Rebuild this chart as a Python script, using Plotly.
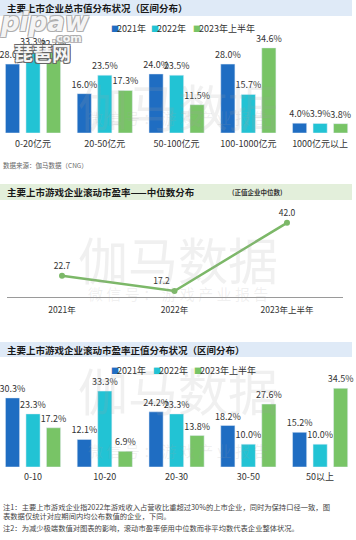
import plotly.graph_objects as go

W, H = 356, 540

# ---------- data ----------
cat1 = ["0-20亿元", "20-50亿元", "50-100亿元", "100-1000亿元", "1000亿元以上"]
mv_2021 = [28.0, 16.0, 24.0, 28.0, 4.0]
mv_2022 = [33.3, 23.5, 23.5, 15.7, 3.9]
mv_2023h1 = [32.7, 17.3, 11.5, 34.6, 3.8]

years = ["2021年", "2022年", "2023年上半年"]
pe_median = [22.7, 17.2, 42.0]

cat3 = ["0-10", "10-20", "20-30", "30-50", "50以上"]
pe_2021 = [30.3, 12.1, 24.2, 18.2, 15.2]
pe_2022 = [23.3, 33.3, 23.3, 10.0, 10.0]
pe_2023h1 = [17.2, 6.9, 13.8, 27.6, 34.5]

series_names = ["2021年", "2022年", "2023年上半年"]
colors = ["#1f6dc2", "#22c3d4", "#78c466"]
line_color = "#7cb868"

FONT = "Noto Sans CJK SC, Noto Sans, sans-serif"


def py(p):
    return 1 - p / H


def px(p):
    return p / W


fig = go.Figure()

# chart 1 bars
for name, vals, col in zip(series_names, [mv_2021, mv_2022, mv_2023h1], colors):
    fig.add_trace(go.Bar(
        x=cat1, y=vals, name=name, marker_color=col, xaxis="x", yaxis="y",
        text=[f"{v:.1f}%" for v in vals], textposition="outside",
        textfont=dict(size=9, color="#333333", family=FONT),
        constraintext="none", cliponaxis=False, showlegend=False))

# chart 2 line
fig.add_trace(go.Scatter(
    x=years, y=pe_median, mode="lines+markers+text", xaxis="x2", yaxis="y2",
    line=dict(color=line_color, width=2.5), marker=dict(color=line_color, size=6),
    text=[f"{v:.1f}" for v in pe_median],
    textposition=["top center", "top left", "top center"],
    textfont=dict(size=8.5, color="#333333", family=FONT),
    cliponaxis=False, showlegend=False))

# chart 3 bars
for name, vals, col in zip(series_names, [pe_2021, pe_2022, pe_2023h1], colors):
    fig.add_trace(go.Bar(
        x=cat3, y=vals, name=name, marker_color=col, xaxis="x3", yaxis="y3",
        text=[f"{v:.1f}%" for v in vals], textposition="outside",
        textfont=dict(size=9, color="#333333", family=FONT),
        constraintext="none", cliponaxis=False, showlegend=False))

shapes = []
annotations = []

# banners
for top, bot, col in [(0, 16, "#dfeaf7"), (184, 200, "#e3efdb"), (342, 357, "#dfeaf7")]:
    shapes.append(dict(type="rect", xref="paper", yref="paper", x0=0, x1=px(352),
                       y0=py(bot), y1=py(top), fillcolor=col, line_width=0, layer="below"))

titles = [("主要上市企业总市值分布状况（区间分布）", 8),
          ("主要上市游戏企业滚动市盈率——中位数分布", 192),
          ("主要上市游戏企业滚动市盈率正值分布状况（区间分布）", 349.5)]
for t, y in titles:
    annotations.append(dict(text=f"<b>{t}</b>", x=px(5), y=py(y), xref="paper", yref="paper",
                            xanchor="left", yanchor="middle", showarrow=False,
                            font=dict(size=9.5, color="#1a1a1a", family=FONT)))
annotations.append(dict(text="<b>(正值企业中位数)</b>", x=px(230), y=py(192), xref="paper", yref="paper",
                        xanchor="left", yanchor="middle", showarrow=False,
                        font=dict(size=6.5, color="#333333", family=FONT)))

# watermarks
for cy, sy in [(67, 105), (258, 293), (427, 463)]:
    annotations.append(dict(text="伽马数据", x=px(178), y=py(cy), xref="paper", yref="paper",
                            showarrow=False, font=dict(size=50, color="rgba(160,160,160,0.16)", family=FONT)))
    annotations.append(dict(text="微 信 号 ： 游 戏 产 业 报 告", x=px(178), y=py(sy), xref="paper", yref="paper",
                            showarrow=False, font=dict(size=15, color="rgba(160,160,160,0.16)", family=FONT)))

# legends (manual)
for ly, xs in [(29, [110, 150, 192]), (370, [110, 152, 193])]:
    for name, col, x0 in zip(series_names, colors, xs):
        annotations.append(dict(text="■", x=px(x0 - 1), y=py(ly), xref="paper", yref="paper",
                                xanchor="left", yanchor="middle", showarrow=False,
                                font=dict(size=8, color=col, family=FONT)))
        annotations.append(dict(text=name, x=px(x0 + 5), y=py(ly), xref="paper", yref="paper",
                                xanchor="left", yanchor="middle", showarrow=False,
                                font=dict(size=9, color="#333333", family=FONT)))

# source & notes
annotations.append(dict(text="数据来源：伽马数据（CNG）", x=px(1), y=py(165), xref="paper", yref="paper",
                        xanchor="left", yanchor="middle", showarrow=False,
                        font=dict(size=6.5, color="#666666", family=FONT)))
notes = [("注1：主要上市游戏企业指2022年游戏收入占营收比重超过30%的上市企业，同时为保持口径一致，图", 506.5),
         ("表数据仅统计对应期间内均公布数值的企业，下同。", 515.5),
         ("注2：为减少极端数值对图表的影响，滚动市盈率使用中位数而非平均数代表企业整体状况。", 528)]
for t, y in notes:
    annotations.append(dict(text=t, x=px(1), y=py(y), xref="paper", yref="paper",
                            xanchor="left", yanchor="middle", showarrow=False,
                            font=dict(size=7.3, color="#444444", family=FONT)))

# site logo overlay
annotations.append(dict(text="<i><b>pipaw</b></i>", x=px(-2), y=py(22), xref="paper", yref="paper",
                        xanchor="left", yanchor="middle", showarrow=False,
                        font=dict(size=26, color="rgba(255,255,255,0.9)", family="DejaVu Sans",
                                  shadow="-1px -1px 0 #aaa, 1px -1px 0 #aaa, -1px 1px 0 #aaa, 1px 1px 0 #aaa")))
annotations.append(dict(text="<b>.com</b>", x=px(50), y=py(38), xref="paper", yref="paper",
                        xanchor="left", yanchor="middle", showarrow=False,
                        font=dict(size=11, color="rgba(255,255,255,0.9)", family="DejaVu Sans",
                                  shadow="-1px -1px 0 #aaa, 1px -1px 0 #aaa, -1px 1px 0 #aaa, 1px 1px 0 #aaa")))
annotations.append(dict(text="<b>琵琶网</b>", x=px(12), y=py(52), xref="paper", yref="paper",
                        xanchor="left", yanchor="middle", showarrow=False,
                        font=dict(size=19, color="rgba(255,255,255,0.95)", family=FONT,
                                  shadow="-1px -1px 0 #666, 1px -1px 0 #666, -1px 1px 0 #666, 1px 1px 0 #666")))

axis_common = dict(showgrid=False, zeroline=False, ticks="", fixedrange=True,
                   tickfont=dict(size=9, color="#333333", family=FONT))

fig.update_layout(
    width=W, height=H, margin=dict(l=0, r=0, t=0, b=0),
    paper_bgcolor="white", plot_bgcolor="rgba(0,0,0,0)",
    barmode="group", bargap=0.143, bargroupgap=0.31,
    font=dict(family=FONT),
    shapes=shapes, annotations=annotations,
    xaxis=dict(domain=[0, 1], anchor="y", type="category", range=[-0.46, 4.5],
               showline=False, ticklabelstandoff=4, **axis_common),
    yaxis=dict(domain=[py(133), py(133 - 38 * 2.46)], range=[0, 38], visible=False, fixedrange=True),
    xaxis2=dict(domain=[px(7), px(343)], anchor="y2", type="category", range=[-0.489, 2.498],
                showline=True, linecolor="#9a9a9a", linewidth=1, ticklabelstandoff=5,
                **{**axis_common, "tickfont": dict(size=8.5, color="#333333", family=FONT)}),
    yaxis2=dict(domain=[py(297), py(297 - 30 * 2.746)], range=[15, 45], visible=False, fixedrange=True),
    xaxis3=dict(domain=[0, 1], anchor="y3", type="category", range=[-0.46, 4.5],
                showline=False, ticklabelstandoff=3, **axis_common),
    yaxis3=dict(domain=[py(467), py(467 - 38 * 2.28)], range=[0, 38], visible=False, fixedrange=True),
)

fig.write_html("out.html", config={"displayModeBar": False},
               post_script="document.body.style.margin='0';document.body.style.overflow='hidden';")
